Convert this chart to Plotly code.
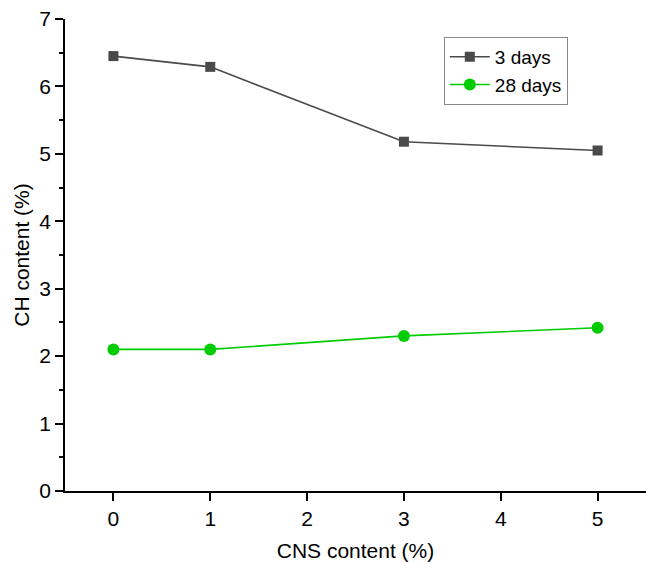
import plotly.graph_objects as go

cns = [0, 1, 3, 5]
ch_3days = [6.45, 6.29, 5.18, 5.05]
ch_28days = [2.10, 2.10, 2.30, 2.42]
x_ticks = [0, 1, 2, 3, 4, 5]
y_ticks = [0, 1, 2, 3, 4, 5, 6, 7]

font = "Liberation Sans, Arial, sans-serif"

fig = go.Figure()
fig.add_trace(go.Scatter(
    x=cns, y=ch_3days, name="3 days", mode="lines+markers",
    line=dict(color="#4a4a4a", width=1.6),
    marker=dict(symbol="square", size=10, color="#4a4a4a"),
))
fig.add_trace(go.Scatter(
    x=cns, y=ch_28days, name="28 days", mode="lines+markers",
    line=dict(color="#00cc00", width=1.6),
    marker=dict(symbol="circle", size=12, color="#00cc00"),
))

fig.update_layout(
    width=646, height=562,
    margin=dict(l=65, r=0, t=19, b=71),
    plot_bgcolor="white", paper_bgcolor="white",
    font=dict(family=font, size=21, color="black"),
    showlegend=True,
    legend=dict(
        x=0.652, y=0.962, xanchor="left", yanchor="top",
        bgcolor="white", bordercolor="#888888", borderwidth=1,
        font=dict(size=19, family=font),
        tracegroupgap=0, itemwidth=40,
    ),
    xaxis=dict(
        range=[-0.5, 5.5], tickvals=x_ticks, ticktext=[str(v) for v in x_ticks],
        showline=True, linecolor="black", linewidth=1.5,
        ticks="outside", ticklen=8, tickwidth=1.5, tickcolor="black",
        showgrid=False, zeroline=False,
        title=dict(text="CNS content (%)", font=dict(size=21), standoff=14),
        tickfont=dict(size=21),
    ),
    yaxis=dict(
        range=[0, 7], tickvals=y_ticks, ticktext=[str(v) for v in y_ticks],
        showline=True, linecolor="black", linewidth=1.5,
        ticks="outside", ticklen=8, tickwidth=1.5, tickcolor="black",
        minor=dict(dtick=0.5, ticks="outside", ticklen=4, tickwidth=1.5, tickcolor="black", showgrid=False),
        showgrid=False, zeroline=False,
        title=dict(text="CH content (%)", font=dict(size=21), standoff=4),
        tickfont=dict(size=21),
    ),
)

fig.write_html("out.html")
